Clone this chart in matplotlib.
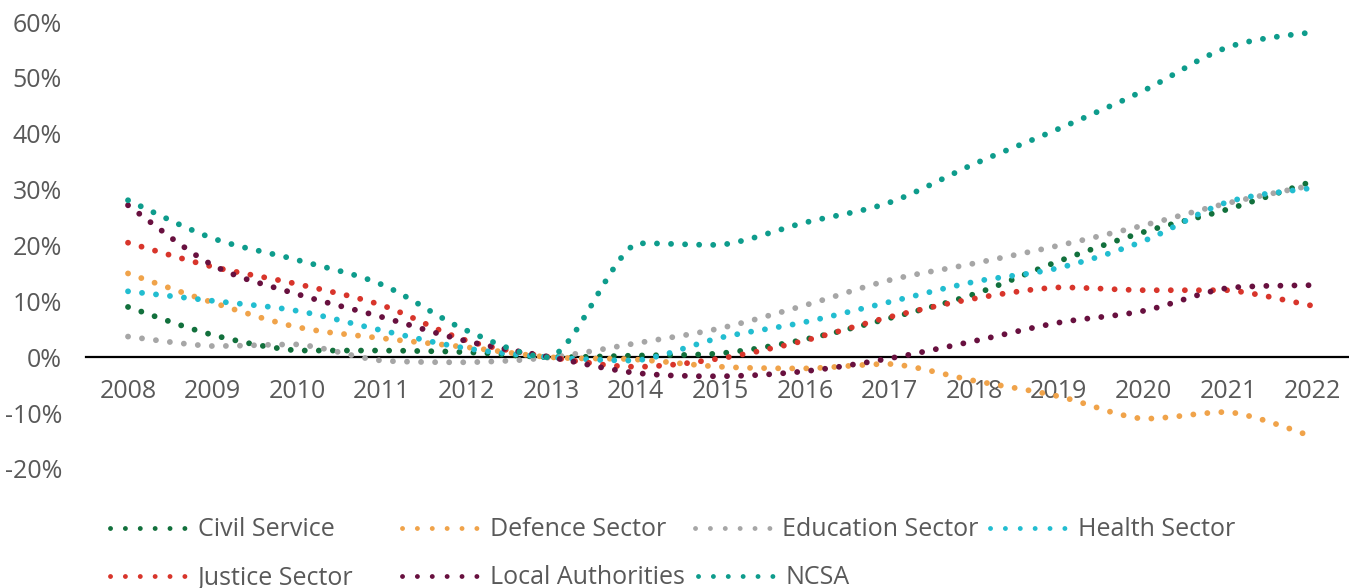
import numpy as np
import matplotlib.pyplot as plt
from matplotlib.path import Path
from matplotlib.patches import PathPatch
from matplotlib.lines import Line2D

plt.rcParams['font.family'] = ['Open Sans', 'DejaVu Sans']

# Category labels
years = ['2008', '2009', '2010', '2011', '2012', '2013', '2014', '2015',
         '2016', '2017', '2018', '2019', '2020', '2021', '2022']

# Series values (% change vs 2013)
civil_service = [9.0, 4.0, 1.2, 1.2, 0.9, 0.0, 0.3, 0.7, 3.2, 7.0, 11.3, 17.2, 22.4, 26.5, 31.5]
defence_sector = [15.0, 9.8, 5.4, 3.4, 1.8, 0.0, -0.4, -1.7, -2.0, -1.2, -4.2, -7.0, -11.0, -9.8, -14.2]
education_sector = [3.7, 2.0, 2.3, -0.6, -0.9, 0.0, 2.5, 5.2, 9.3, 13.8, 16.8, 20.0, 23.6, 27.6, 30.8]
health_sector = [11.8, 10.1, 8.3, 4.8, 1.6, 0.0, -0.6, 3.5, 6.3, 9.9, 13.5, 16.0, 20.8, 27.8, 30.3]
justice_sector = [20.5, 16.2, 13.1, 9.3, 3.0, 0.0, -1.7, -0.2, 3.0, 7.2, 10.5, 12.5, 12.0, 12.0, 9.2]
local_authorities = [27.2, 16.5, 11.3, 7.2, 2.9, 0.0, -2.8, -3.4, -2.5, -0.2, 2.9, 6.2, 8.3, 12.4, 12.9]
ncsa = [28.1, 21.3, 17.4, 13.0, 4.8, 0.0, 20.4, 20.1, 24.1, 27.7, 34.6, 40.9, 47.7, 55.5, 58.2]

names = ['Civil Service', 'Defence Sector', 'Education Sector', 'Health Sector',
         'Justice Sector', 'Local Authorities', 'NCSA']
series = [civil_service, defence_sector, education_sector, health_sector,
          justice_sector, local_authorities, ncsa]
colors = ['#12703c', '#f0a34a', '#a6a6a6', '#22bdd0', '#d8352b', '#68103f', '#0e9c8c']

text_color = '#595959'

W, H = 1349, 588
fig = plt.figure(figsize=(W / 100, H / 100), dpi=100)
ax = fig.add_axes([85.7 / W, 119 / H, (1355 - 85.7) / W, 447 / H])
ax.set_xlim(-0.5, 14.5)
ax.set_ylim(-20, 60)


# smoothed line (bezier through the points), control points kept inside
# each segment's y range so it doesn't overshoot at the turns
def smooth_path(xs, ys):
    pts = np.column_stack([xs, ys]).astype(float)
    n = len(pts)
    verts = [pts[0]]
    codes = [Path.MOVETO]
    for i in range(n - 1):
        p0 = pts[i - 1] if i > 0 else pts[i]
        p1 = pts[i]
        p2 = pts[i + 1]
        p3 = pts[i + 2] if i + 2 < n else pts[i + 1]
        c1 = p1 + (p2 - p0) / 6.0
        c2 = p2 - (p3 - p1) / 6.0
        lo, hi = min(p1[1], p2[1]), max(p1[1], p2[1])
        c1[1] = np.clip(c1[1], lo, hi)
        c2[1] = np.clip(c2[1], lo, hi)
        verts += [c1, c2, p2]
        codes += [Path.CURVE4] * 3
    return Path(verts, codes)


x = np.arange(len(years))
for vals, col in zip(series, colors):
    patch = PathPatch(smooth_path(x, vals), facecolor='none', edgecolor=col,
                      linewidth=4.2, linestyle=(0, (0.01, 2.4)), zorder=3)
    patch.set_capstyle('round')
    ax.add_patch(patch)

# axes styling
for side in ['top', 'right', 'left']:
    ax.spines[side].set_visible(False)
ax.spines['bottom'].set_position(('data', 0))
ax.spines['bottom'].set_color('black')
ax.spines['bottom'].set_linewidth(1.6)
ax.spines['bottom'].set_zorder(2)

ax.set_xticks(x)
ax.set_xticklabels(years)
ax.set_yticks(range(-20, 70, 10))
ax.set_yticklabels([f'{v}%' for v in range(-20, 70, 10)])
ax.tick_params(axis='x', length=0, pad=16, labelsize=18, labelcolor=text_color)
ax.tick_params(axis='y', length=0, pad=17, labelsize=18, labelcolor=text_color)

# legend, one entry at a time so the columns sit where they do in the original
legend_pos = [(110, 530), (402, 530), (695, 530), (990, 530),
              (110, 578), (402, 578), (698, 578)]
for name, col, (lx, ly) in zip(names, colors, legend_pos):
    h = Line2D([], [], color=col, linewidth=3.5, linestyle=(0, (0.01, 3.05)),
               dash_capstyle='round')
    fig.legend([h], [name], loc='center left', bbox_to_anchor=(lx / W, 1 - ly / H),
               frameon=False, fontsize=18, labelcolor=text_color,
               handlelength=3.0, handletextpad=0.5, borderpad=0, borderaxespad=0)

fig.savefig('out.png', dpi=100)
